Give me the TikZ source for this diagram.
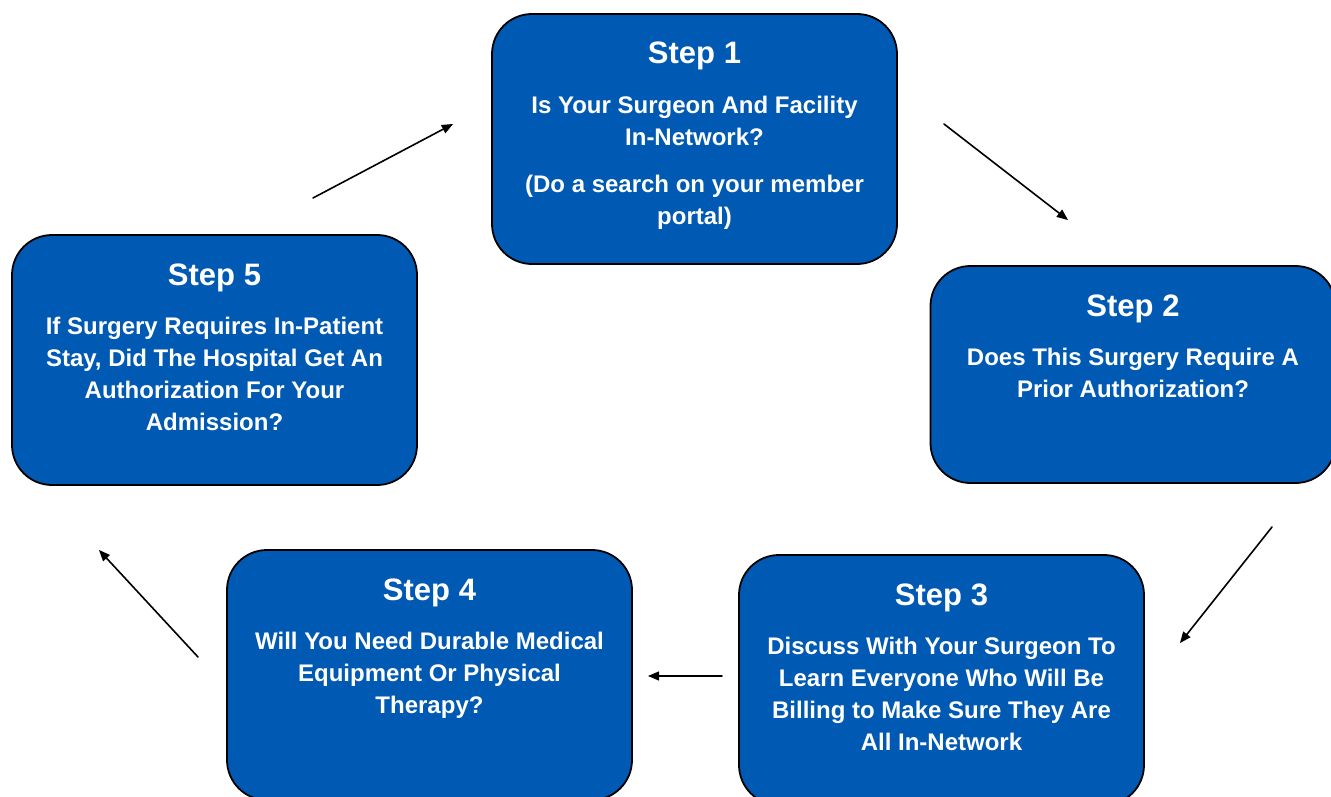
\documentclass[tikz,border=0pt]{standalone}
\usepackage{fontspec}
\setmainfont{Liberation Sans}
\usepackage{tikz}
\usetikzlibrary{arrows}
\definecolor{stepblue}{RGB}{0,89,178}

\begin{document}
\begin{tikzpicture}[line cap=round,line join=round,>=triangle 45,x=1pt,y=-1pt,
    stepbox/.style={draw=black,line width=1.8pt,fill=stepblue,rounded corners=40pt,
      minimum width=405pt,minimum height=250pt,inner sep=0pt},
    steptitle/.style={text=white,font=\bfseries\fontsize{31}{36}\selectfont,anchor=base,inner sep=0pt},
    steptext/.style={text=white,font=\bfseries\fontsize{24}{32}\selectfont,align=center,anchor=base,inner sep=0pt},
    steparrow/.style={->,line width=1.6pt}]
        \useasboundingbox (0,0) rectangle (1331,797);
        \clip (0,0) rectangle (1331,797);
        % step 1
        \node[stepbox] (s1) at (694.5,139) {};
        \node[steptitle] (t1) at (694.5,64) {Step 1};
        \node[steptext] (b1) at (694.5,224) {Is Your Surgeon And Facility\\In-Network?\\[15pt](Do a search on your member\\portal)};
        % step 2
        \node[stepbox,minimum height=217pt] (s2) at (1133,374.5) {};
        \node[steptitle] (t2) at (1133,316) {Step 2};
        \node[steptext] (b2) at (1133,397) {Does This Surgery Require A\\Prior Authorization?};
        % step 3
        \node[stepbox] (s3) at (941.5,680) {};
        \node[steptitle] (t3) at (941.5,605) {Step 3};
        \node[steptext] (b3) at (941.5,750) {Discuss With Your Surgeon To\\Learn Everyone Who Will Be\\Billing to Make Sure They Are\\All In-Network};
        % step 4
        \node[stepbox] (s4) at (429.5,675) {};
        \node[steptitle] (t4) at (429.5,600) {Step 4};
        \node[steptext] (b4) at (429.5,713) {Will You Need Durable Medical\\Equipment Or Physical\\Therapy?};
        % step 5
        \node[stepbox] (s5) at (214.5,360) {};
        \node[steptitle] (t5) at (214.5,285) {Step 5};
        \node[steptext] (b5) at (214.5,430) {If Surgery Requires In-Patient\\Stay, Did The Hospital Get An\\Authorization For Your\\Admission?};
        % arrows
        \coordinate (a12) at (944,124);
        \coordinate (z12) at (1068,220);
        \coordinate (a23) at (1272,527);
        \coordinate (z23) at (1180,643);
        \coordinate (a34) at (722,676);
        \coordinate (z34) at (648,676);
        \coordinate (a45) at (198,657);
        \coordinate (z45) at (99,550);
        \coordinate (a51) at (313,198);
        \coordinate (z51) at (453,124);
        \draw[steparrow] (a12) -- (z12);
        \draw[steparrow] (a23) -- (z23);
        \draw[steparrow] (a34) -- (z34);
        \draw[steparrow] (a45) -- (z45);
        \draw[steparrow] (a51) -- (z51);
      \end{tikzpicture}
\end{document}
